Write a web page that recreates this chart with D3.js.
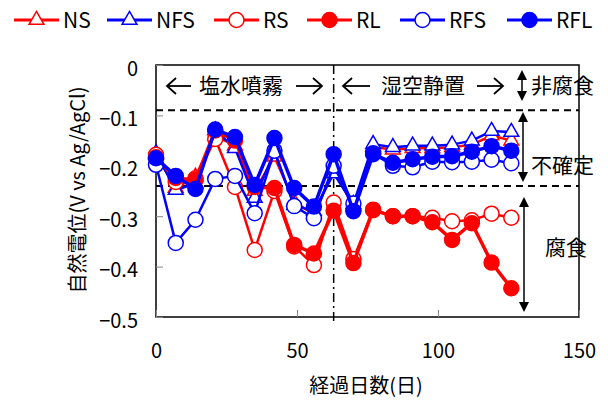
<!DOCTYPE html>
<html><head><meta charset="utf-8">
<script src="https://cdn.jsdelivr.net/npm/d3@7"></script>
<style>body{margin:0;background:#fff}text{font-family:"Noto Sans CJK JP","Noto Sans",sans-serif}</style>
</head><body><svg id="c" width="608" height="407"></svg>
<script>
const days=[0,7,14,21,28,35,42,49,56,63,70,77,84,91,98,105,112,119,126];
const NS =[-0.178,-0.244,-0.222,-0.140,-0.160,-0.250,-0.182,-0.272,-0.296,-0.210,-0.280,-0.162,-0.168,-0.165,-0.165,-0.163,-0.158,-0.140,-0.150];
const NFS=[-0.175,-0.248,-0.235,-0.130,-0.165,-0.264,-0.172,-0.278,-0.290,-0.215,-0.276,-0.157,-0.163,-0.160,-0.160,-0.158,-0.150,-0.131,-0.133];
const RS =[-0.178,-0.232,-0.225,-0.147,-0.242,-0.367,-0.250,-0.360,-0.397,-0.273,-0.385,-0.287,-0.300,-0.300,-0.303,-0.310,-0.308,-0.295,-0.303];
const RL =[-0.183,-0.224,-0.228,-0.130,-0.150,-0.242,-0.244,-0.357,-0.374,-0.289,-0.393,-0.288,-0.300,-0.300,-0.312,-0.347,-0.314,-0.392,-0.443];
const RFS=[-0.198,-0.353,-0.307,-0.226,-0.220,-0.294,-0.170,-0.280,-0.304,-0.200,-0.275,-0.175,-0.200,-0.203,-0.192,-0.193,-0.192,-0.188,-0.195];
const RFL=[-0.185,-0.220,-0.246,-0.128,-0.143,-0.238,-0.145,-0.244,-0.281,-0.177,-0.290,-0.177,-0.194,-0.187,-0.182,-0.181,-0.172,-0.161,-0.170];
const xTicks=[0,50,100,150];
const yTicks=[0,-0.1,-0.2,-0.3,-0.4,-0.5];
const boundaries=[-0.09,-0.24];
const switchDay=63;
const seriesNames=["NS","NFS","RS","RL","RFS","RFL"];

const series=[
 {name:"NS",v:NS,color:"#ff0000",shape:"tri",fill:false,w:2.5},
 {name:"NFS",v:NFS,color:"#0000ff",shape:"tri",fill:false,w:2.5},
 {name:"RS",v:RS,color:"#ff0000",shape:"circ",fill:false,w:2.5},
 {name:"RL",v:RL,color:"#ff0000",shape:"circ",fill:true,w:3.5},
 {name:"RFS",v:RFS,color:"#0000ff",shape:"circ",fill:false,w:2.5},
 {name:"RFL",v:RFL,color:"#0000ff",shape:"circ",fill:true,w:3.5}
];

const svg=d3.select("#c");
const L=156,R=579,T=65,B=317;
const x=d3.scaleLinear().domain([0,150]).range([L,R]);
const y=d3.scaleLinear().domain([-0.5,0]).range([B,T]);

// frame
svg.append("rect").attr("x",L).attr("y",T).attr("width",R-L).attr("height",B-T)
 .attr("fill","none").attr("stroke","#000").attr("stroke-width",1.5);

// inner ticks
const yAx=d3.axisLeft(y).tickValues(yTicks).tickSize(-7).tickFormat(d=>d===0?"0":d3.format(".1f")(d).replace("-","−")).tickPadding(18);
const gy=svg.append("g").attr("transform",`translate(${L},0)`).call(yAx);
gy.select(".domain").remove();
gy.selectAll(".tick line").attr("stroke","#888").attr("stroke-width",1);
gy.selectAll(".tick text").attr("font-size",20).attr("fill","#000").attr("dy","0.5em");
const xAx=d3.axisBottom(x).tickValues(xTicks).tickSize(-7).tickPadding(27);
const gx=svg.append("g").attr("transform",`translate(0,${B})`).call(xAx);
gx.select(".domain").remove();
gx.selectAll(".tick line").attr("stroke","#888").attr("stroke-width",1);
gx.selectAll(".tick text").attr("font-size",20).attr("fill","#000");

// boundaries
boundaries.forEach(b=>{
 svg.append("line").attr("x1",L).attr("x2",R).attr("y1",y(b)).attr("y2",y(b))
  .attr("stroke","#000").attr("stroke-width",2).attr("stroke-dasharray","7,5");
});
svg.append("line").attr("x1",x(switchDay)).attr("x2",x(switchDay)).attr("y1",T).attr("y2",B+6)
 .attr("stroke","#000").attr("stroke-width",1.5).attr("stroke-dasharray","9,4,2,4");

// series
const line=d3.line().x((d,i)=>x(days[i])).y(d=>y(d));
const tri=d3.symbol().type(d3.symbolTriangle).size(95);
function marker(g,s,cx,cy){
 if(s.shape==="tri"){
  g.append("path").attr("d",tri()).attr("transform",`translate(${cx},${cy})`)
   .attr("fill","#fff").attr("stroke",s.color).attr("stroke-width",1.5);
 } else {
  g.append("circle").attr("cx",cx).attr("cy",cy).attr("r",7.5)
   .attr("fill",s.fill?s.color:"#fff").attr("stroke",s.color).attr("stroke-width",1.5);
 }
}
series.forEach(s=>{
 const g=svg.append("g");
 g.append("path").datum(s.v).attr("d",line).attr("fill","none").attr("stroke",s.color).attr("stroke-width",s.w).attr("stroke-linejoin","round");
 s.v.forEach((v,i)=>marker(g,s,x(days[i]),y(v)));
});

// legend
const legX=[14,107,214,307,400,507];
series.forEach((s,i)=>{
 const g=svg.append("g");
 const lx=legX[i],ly=20;
 g.append("line").attr("x1",lx).attr("x2",lx+45).attr("y1",ly).attr("y2",ly).attr("stroke",s.color).attr("stroke-width",3);
 marker(g,s,lx+22.5,ly);
 g.append("text").attr("x",lx+49).attr("y",ly+7.5).attr("font-size",21).text(s.name);
});

// arrows helper
function hArrow(x1,x2,yy,dir){
 const g=svg.append("g").attr("stroke","#000").attr("stroke-width",1.8).attr("fill","none");
 g.append("line").attr("x1",x1).attr("x2",x2).attr("y1",yy).attr("y2",yy);
 const tip=dir<0?x1:x2, k=dir<0?1:-1;
 g.append("path").attr("d",`M${tip+k*9},${yy-8}L${tip},${yy}L${tip+k*9},${yy+8}`);
}
function vArrow(xx,y1,y2){
 svg.append("line").attr("x1",xx).attr("x2",xx).attr("y1",y1+6).attr("y2",y2-6).attr("stroke","#000").attr("stroke-width",1.5);
 svg.append("path").attr("d",`M${xx-5},${y1+10}L${xx},${y1}L${xx+5},${y1+10}Z`).attr("fill","#000");
 svg.append("path").attr("d",`M${xx-5},${y2-10}L${xx},${y2}L${xx+5},${y2-10}Z`).attr("fill","#000");
}
hArrow(167,191,86,-1);
svg.append("text").attr("x",241).attr("y",93).attr("text-anchor","middle").attr("font-size",21).text("塩水噴霧");
hArrow(296,322,86,1);
hArrow(343,370,86,-1);
svg.append("text").attr("x",423).attr("y",93).attr("text-anchor","middle").attr("font-size",21).text("湿空静置");
hArrow(477,503,86,1);

vArrow(522,70,101);
vArrow(523,112,182);
vArrow(524,197,312);
svg.append("text").attr("x",531).attr("y",93).attr("font-size",21).text("非腐食");
svg.append("text").attr("x",531).attr("y",173).attr("font-size",21).text("不確定");
svg.append("text").attr("x",545).attr("y",255).attr("font-size",21).text("腐食");

// axis titles
svg.append("text").attr("transform","translate(85,190) rotate(-90)").attr("text-anchor","middle").attr("font-size",20).text("自然電位(V vs Ag/AgCl)");
svg.append("text").attr("x",366).attr("y",393).attr("text-anchor","middle").attr("font-size",20).text("経過日数(日)");
</script></body></html>
